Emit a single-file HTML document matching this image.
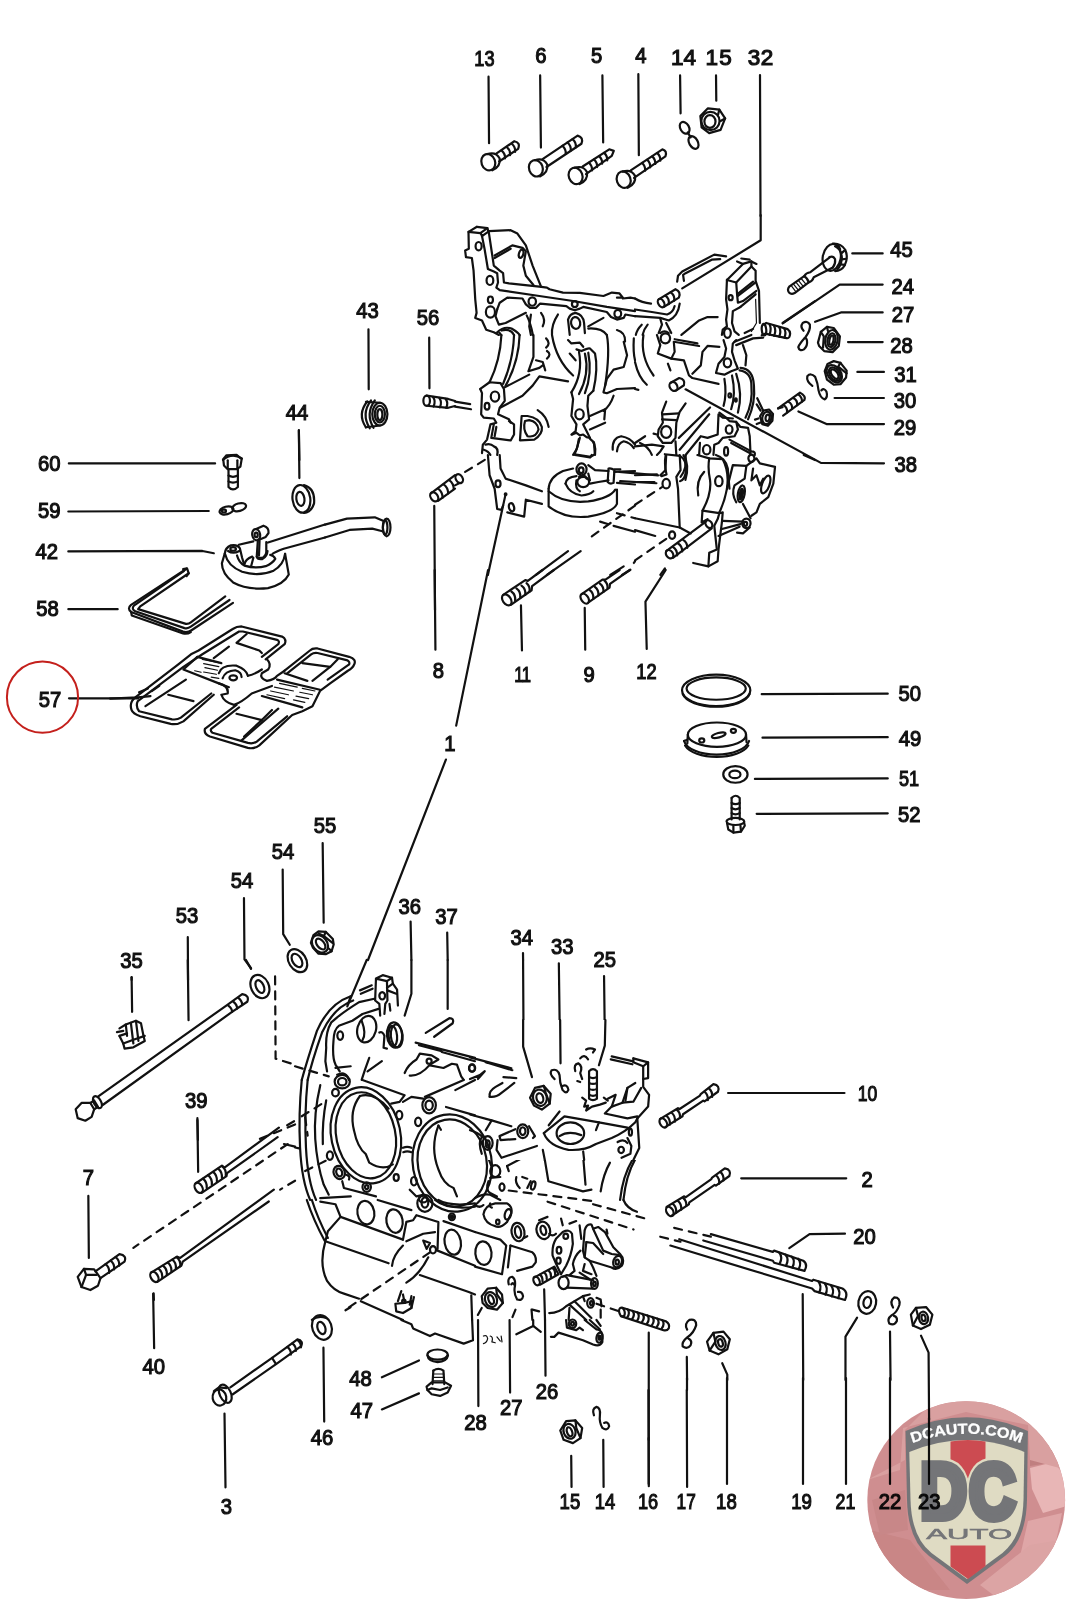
<!DOCTYPE html>
<html><head><meta charset="utf-8"><title>Crankcase diagram</title>
<style>
html,body{margin:0;padding:0;background:#fff;}
body{width:1067px;height:1600px;overflow:hidden;font-family:"Liberation Sans",sans-serif;}
svg{display:block}
.art path,.art ellipse,.art line,.art circle,.art polyline{fill:none;stroke:#111;stroke-width:2.2;vector-effect:non-scaling-stroke;stroke-linecap:round;stroke-linejoin:round}
.art .f{fill:#111}
.art .w{fill:#fff}
.art .t{stroke-width:1.2}
.art .k{stroke-width:2.4}
.art .d{stroke-dasharray:8 7}
.lbl text{font-family:"Liberation Sans",sans-serif;font-size:22.5px;fill:#111;stroke:#111;stroke-width:1.15}
</style></head><body>
<svg width="1067" height="1600" viewBox="0 0 1067 1600">
<rect width="1067" height="1600" fill="#fff"/>
<g class="art">
<g transform="translate(540,1390) scale(0.16870)"><!-- b01.txt -->
<path d="M120,240 L155,185 L210,180 L250,225 L240,285 L195,315 L140,295 Z"/>
<ellipse cx="175" cy="245" rx="35" ry="45" transform="rotate(-20 175 245)"/>
<ellipse cx="175" cy="248" rx="15" ry="28" transform="rotate(-20 175 248)"/>
<path d="M210,180 L215,225 L240,285"/>
<path d="M320,150 Q305,110 335,100 Q360,105 355,150 Q350,190 370,225 Q400,245 410,215 Q405,185 380,195"/>
<path d="M185,390 L187,575"/>
<path d="M375,295 L377,575"/>
<path d="M643,0 L645,570"/>
<path d="M870,0 L872,575"/>
</g>
<g transform="translate(60,800) scale(0.25305)"><!-- l01.txt -->
<path d="M1038,170 L1042,485"/>
<path d="M880,275 L882,530 L908,572"/>
<path d="M727,388 L729,630 L755,665"/>
<path d="M505,542 L506,711"/>
<path d="M283,700 L283,711"/>
</g>
<g transform="translate(60,960) scale(0.25305)"><!-- l02.txt -->
<path d="M283,69 L285,205"/>
<path d="M505,0 L508,238"/>
<path d="M735,0 L755,35"/>
<path d="M543,625 L545,711"/>
<ellipse cx="790" cy="105" rx="35" ry="48" transform="rotate(-25 790 105)"/>
<ellipse cx="790" cy="105" rx="15" ry="27" transform="rotate(-25 790 105)"/>
<path class="d" d="M850,65 L852,390 L929,414"/>
<path d="M62,590 L85,565 L120,565 L135,590 L125,620 L100,635 L70,625 Z"/>
<path d="M120,565 L135,555 L150,580 L135,590"/>
<ellipse cx="148" cy="562" rx="14" ry="26" transform="rotate(-30 148 562)"/>
<path d="M150,540 L660,178 L720,135 Q750,140 740,165 L680,205 L170,572"/>
<path d="M665,180 Q680,190 680,205"/>
<path d="M685,165 Q700,176 700,192"/>
<path d="M705,150 Q720,162 720,178"/>
<path d="M235,270 L260,255 L300,240 L320,250 L330,300 L335,320 L290,345 L255,350 L250,330 L235,300"/>
<path d="M260,255 L265,300"/>
<path d="M280,248 L290,330"/>
<path d="M300,240 L310,320"/>
<path d="M235,300 L265,290"/>
<path d="M250,330 L290,315 L335,300"/>
<path d="M225,285 L250,280"/>
<path class="d" d="M929,650 L780,711"/>
</g>
<g transform="translate(60,1120) scale(0.25305)"><!-- l03.txt -->
<path d="M543,0 L546,205"/>
<path d="M112,300 L114,545"/>
<path d="M370,685 L371,711"/>
<ellipse cx="548" cy="268" rx="14" ry="22" transform="rotate(-30 548 268)"/>
<path d="M537,250 L640,180 L650,188 L865,30"/>
<path d="M560,288 L658,222 L660,210 L860,68"/>
<path d="M565,232 Q582,245 580,270"/>
<path d="M585,218 Q602,231 600,256"/>
<path d="M605,205 Q622,218 620,243"/>
<path d="M625,192 Q642,205 640,230"/>
<path d="M640,182 Q658,195 655,220"/>
<path class="d" d="M900,95 L290,505"/>
<path class="d" d="M925,5 L885,28"/>
<path d="M885,95 L929,105"/>
<path class="d" d="M929,240 L870,275"/>
<ellipse cx="373" cy="620" rx="14" ry="22" transform="rotate(-30 373 620)"/>
<path d="M360,603 L462,540 L475,545 L845,275"/>
<path d="M385,640 L480,575 L485,560 L825,322"/>
<path d="M390,588 Q406,600 404,624"/>
<path d="M408,576 Q424,588 422,612"/>
<path d="M426,564 Q442,576 440,600"/>
<path d="M444,552 Q460,564 458,588"/>
<path d="M460,542 Q478,555 475,578"/>
<path d="M70,620 L95,588 L135,590 L160,625 L150,655 L120,672 L85,660 Z"/>
<path d="M95,588 L103,612 L85,660"/>
<path d="M103,612 L145,612"/>
<path d="M140,598 L235,530 Q265,535 255,560 L160,625"/>
<path d="M180,570 Q196,582 194,604"/>
<path d="M200,556 Q216,568 214,590"/>
<path d="M220,542 Q236,554 234,576"/>
</g>
<g transform="translate(100,1290) scale(0.25305)"><!-- l04.txt -->
<path d="M210,15 L214,230"/>
<path d="M883,228 L886,520"/>
<path d="M492,488 L496,780"/>
<ellipse cx="877" cy="148" rx="38" ry="50" transform="rotate(-20 877 148)"/>
<ellipse cx="875" cy="150" rx="15" ry="25" transform="rotate(-20 875 150)"/>
<ellipse cx="472" cy="425" rx="27" ry="32" transform="rotate(-10 472 425)"/>
<ellipse cx="495" cy="410" rx="22" ry="38" transform="rotate(-25 495 410)"/>
<path d="M450,400 L470,385 L500,388"/>
<path d="M515,385 L680,268 L740,225 L780,195 Q805,200 795,222 L700,290 L525,412"/>
<path d="M740,225 Q756,237 754,255"/>
<path d="M760,211 Q776,223 774,241"/>
<path d="M780,197 Q796,209 794,227"/>
<path d="M680,268 L695,292"/>
<path d="M970,80 L990,68"/>
</g>
<g transform="translate(270,920) scale(0.08435)"><!-- l05.txt -->
<ellipse cx="325" cy="482" rx="102" ry="148" transform="rotate(-32 325 482)"/>
<ellipse cx="320" cy="480" rx="52" ry="88" transform="rotate(-32 320 480)"/>
<path d="M485,270 L515,180 L575,135 L660,140 L745,225 L755,290 L730,370 L660,405 L575,400 L510,330 Z"/>
<ellipse cx="592" cy="283" rx="85" ry="112" transform="rotate(-38 592 283)"/>
<ellipse cx="600" cy="285" rx="42" ry="75" transform="rotate(-38 600 285)"/>
<path d="M660,140 L640,190 L745,275"/>
<path d="M640,190 L575,160"/>
<path d="M730,370 L700,340"/>
</g>
<g transform="translate(295,960) scale(0.16870)"><!-- m01.txt -->
<path d="M425,0 L310,275 L330,215"/>
<path d="M690,0 L690,200 L650,330"/>
<path d="M905,0 L905,290"/>
<path d="M775,432 L915,345 Q945,345 935,375 L825,455"/>
<path d="M330,215 Q200,260 130,420 Q70,600 40,711"/>
<path d="M345,240 Q230,280 160,430 Q100,600 75,711"/>
<path d="M470,230 L380,250 Q300,300 250,340 L215,370 Q180,430 185,520 L180,600 L190,660"/>
<path d="M495,290 L400,320 L340,360 L260,390 Q230,410 228,480 Q220,580 240,620 L265,660"/>
<path d="M480,110 L520,90 L575,105 L545,125 L480,110 L475,240 L500,260 L505,330"/>
<path d="M545,125 L548,240 L535,260 L530,320"/>
<path d="M575,105 L580,140 L545,165"/>
<path d="M580,140 L605,175 L610,270"/>
<path d="M548,180 L600,200"/>
<path d="M560,260 L565,300"/>
<ellipse cx="517" cy="212" rx="17" ry="22"/>
<path d="M385,180 L455,150"/>
<path d="M390,200 L460,170"/>
<ellipse cx="425" cy="410" rx="55" ry="80" transform="rotate(15 425 410)"/>
<path d="M395,360 Q425,440 400,475"/>
<ellipse cx="590" cy="445" rx="45" ry="75" transform="rotate(-5 590 445)"/>
<ellipse cx="580" cy="450" rx="25" ry="60" transform="rotate(-5 580 450)"/>
<ellipse cx="603" cy="450" rx="35" ry="68" transform="rotate(-5 603 450)"/>
<path d="M500,430 Q520,420 530,450 L525,520 L545,525"/>
<ellipse cx="268" cy="448" rx="17" ry="25"/>
<path d="M715,490 L1067,580"/>
<path d="M735,505 L870,540"/>
<path d="M870,545 L1067,600"/>
<path d="M650,670 Q670,620 720,590 L740,555 L810,565 L850,590 L800,620 Q740,690 680,685"/>
<ellipse cx="795" cy="600" rx="15" ry="15"/>
<path d="M800,625 L880,640 L930,615 L960,620 L985,690 L1000,711"/>
<ellipse cx="1050" cy="640" rx="18" ry="22"/>
<path d="M440,580 L415,650 L395,711"/>
<path d="M515,600 L430,660"/>
<path d="M250,680 Q290,660 310,690 L320,711"/>
<path d="M240,640 L330,630"/>
<path class="d" d="M0,630 L200,690"/>
</g>
<g transform="translate(475,960) scale(0.16870)"><!-- m02.txt -->
<clipPath id="cm02"><rect x="-50.0" y="-50.0" width="1170.0" height="405.0"/></clipPath>
<g clip-path="url(#cm02)">
<path d="M285,0 L288,520 L340,690"/>
<path d="M497,20 L505,615"/>
<path d="M765,95 L770,500 L735,620"/>
<path d="M0,590 L220,650"/>
<path d="M60,622 L225,667"/>
<path d="M0,640 L60,660 L20,711"/>
<path d="M170,690 L240,695 L245,711"/>
<path d="M640,560 Q650,520 690,520 Q720,530 715,550"/>
<path d="M665,548 Q690,532 702,562"/>
<path d="M640,560 L630,590 Q590,600 585,640 Q600,680 630,660 Q640,630 610,625"/>
<path d="M630,590 L655,610"/>
<path d="M625,680 L640,711"/>
<ellipse cx="465" cy="682" rx="22" ry="30" transform="rotate(-20 465 682)"/>
<path d="M680,650 Q700,630 720,650 L722,711"/>
<path d="M680,650 L682,711"/>
<path d="M682,680 Q700,690 722,680"/>
<path d="M810,570 L940,600 L945,580 L1020,600 L1020,711"/>
<path d="M800,585 L935,615 L990,630 L990,711"/>
<path d="M945,580 L990,630 L1020,600"/>
</g>
</g>
<g transform="translate(295,1080) scale(0.16870)"><!-- m03.txt -->
<ellipse cx="420" cy="328" rx="205" ry="288" transform="rotate(-12 420 328)"/>
<ellipse cx="420" cy="328" rx="175" ry="258" transform="rotate(-12 420 328)"/>
<path d="M385,95 Q320,180 350,300 Q370,400 420,440 L440,490 Q520,540 580,500"/>
<path d="M385,95 Q470,70 555,170"/>
<ellipse cx="932" cy="492" rx="234" ry="290" transform="rotate(-10 932 492)"/>
<ellipse cx="932" cy="492" rx="204" ry="260" transform="rotate(-10 932 492)"/>
<path d="M850,270 Q800,400 850,530 Q880,620 940,640 L960,690"/>
<path d="M850,270 L865,295"/>
<path d="M640,402 Q665,392 690,402"/>
<path d="M642,428 Q665,418 690,428"/>
<ellipse cx="795" cy="150" rx="40" ry="48"/>
<ellipse cx="795" cy="150" rx="22" ry="28"/>
<ellipse cx="618" cy="208" rx="18" ry="25"/>
<ellipse cx="730" cy="248" rx="18" ry="25"/>
<ellipse cx="240" cy="75" rx="20" ry="22"/>
<ellipse cx="207" cy="448" rx="18" ry="25"/>
<ellipse cx="262" cy="548" rx="33" ry="40" transform="rotate(-20 262 548)"/>
<ellipse cx="262" cy="548" rx="17" ry="24" transform="rotate(-20 262 548)"/>
<ellipse cx="600" cy="578" rx="15" ry="20"/>
<ellipse cx="705" cy="600" rx="17" ry="25"/>
<ellipse cx="425" cy="635" rx="25" ry="28"/>
<ellipse cx="425" cy="635" rx="10" ry="12"/>
<ellipse cx="280" cy="10" rx="45" ry="40"/>
<ellipse cx="280" cy="10" rx="25" ry="22"/>
<path d="M400,0 L650,90 L620,130 L570,140"/>
<path d="M640,130 L690,100 L760,110"/>
<path d="M770,100 L1000,0"/>
<path d="M950,60 L1067,0"/>
<path d="M895,160 L1067,210"/>
<path d="M40,0 Q20,200 30,400 Q40,600 90,711"/>
<path d="M75,0 Q55,200 65,400 Q75,600 125,711"/>
<path d="M150,30 Q110,200 120,350 Q130,500 170,620 L200,680"/>
<path d="M185,120 Q160,250 165,380"/>
<path class="d" d="M40,215 L185,125"/>
<path class="d" d="M60,540 L200,470"/>
<path class="d" d="M60,220 L75,330"/>
<path d="M0,400 L25,405"/>
<path class="k" d="M150,700 L330,690"/>
<path d="M280,600 L290,640 L480,690"/>
<path d="M300,560 Q330,570 320,590"/>
<path d="M680,650 L720,690 L760,680"/>
<ellipse cx="760" cy="705" rx="25" ry="20"/>
</g>
<g transform="translate(475,1080) scale(0.16870)"><!-- m04.txt -->
<clipPath id="cm04"><rect x="-50.0" y="474.0" width="1170.0" height="326.0"/></clipPath>
<g clip-path="url(#cm04)">
<path d="M325,85 L355,40 L410,35 L450,75 L440,140 L395,170 L345,150 Z"/>
<ellipse cx="385" cy="105" rx="35" ry="45" transform="rotate(-20 385 105)"/>
<ellipse cx="385" cy="105" rx="18" ry="28" transform="rotate(-20 385 105)"/>
<path d="M90,110 Q80,80 120,50 L160,20"/>
<path d="M90,110 Q120,110 150,85 L230,20"/>
<ellipse cx="530" cy="45" rx="22" ry="30" transform="rotate(-20 530 45)"/>
<ellipse cx="533" cy="50" rx="8" ry="12"/>
<path d="M480,0 L500,15"/>
<path d="M685,0 L690,100 Q705,120 725,100 L728,0"/>
<path d="M688,30 Q706,40 727,30"/>
<path d="M688,60 Q706,70 727,60"/>
<path d="M640,100 L660,120 L650,150 L680,155 L660,180 L700,165 L720,150 L760,145"/>
<path d="M620,20 L630,40"/>
<path d="M760,40 L830,50 L800,120"/>
<path d="M770,90 L790,120"/>
<path d="M990,0 L985,30 L1030,50 L1030,150 L1000,190 L960,235 L930,240"/>
<path d="M905,55 L985,30"/>
<path d="M905,55 L880,110 L875,150 L920,160 L1000,150 L1000,190"/>
<path d="M830,50 L860,55 L800,170"/>
<path d="M770,200 L800,170 L920,160"/>
<path d="M770,200 L910,235 L960,235"/>
<path d="M410,310 L540,220 L720,255 L660,330"/>
<path d="M410,310 Q430,370 520,400 Q620,410 690,380 L760,350 Q850,320 910,285 L920,260"/>
<path d="M740,255 L905,290"/>
<path d="M690,380 L720,370 L770,380 L830,340 L905,300"/>
<ellipse cx="570" cy="320" rx="85" ry="60" transform="rotate(-5 570 320)"/>
<ellipse cx="582" cy="337" rx="58" ry="33" transform="rotate(-5 582 337)"/>
<path d="M405,420 L435,600 L640,660 L690,650"/>
<path d="M640,440 L655,620"/>
<path d="M405,420 Q520,470 640,440 L690,400"/>
<path d="M0,215 L100,245 L130,250 L240,275"/>
<path d="M100,245 L60,320"/>
<ellipse cx="290" cy="305" rx="38" ry="42"/>
<ellipse cx="290" cy="305" rx="18" ry="22"/>
<path d="M250,285 L140,320 L150,340 L240,330"/>
<path d="M145,340 L130,420 L160,450 L380,380"/>
<path d="M330,320 L350,345 L330,350"/>
<path d="M190,510 L380,410"/>
<path d="M190,510 L200,540"/>
<ellipse cx="75" cy="380" rx="35" ry="45"/>
<ellipse cx="75" cy="380" rx="16" ry="24"/>
<path d="M0,330 Q60,400 100,520"/>
<ellipse cx="120" cy="540" rx="30" ry="35"/>
<path d="M90,580 L150,575"/>
<path d="M80,600 Q60,650 90,670 L130,690"/>
<ellipse cx="160" cy="635" rx="15" ry="22"/>
<path d="M0,700 Q50,670 90,680 L150,711"/>
<ellipse cx="865" cy="415" rx="18" ry="20"/>
<ellipse cx="920" cy="295" rx="12" ry="22"/>
<path d="M960,240 L965,400 L985,420 Q900,520 880,711"/>
<path d="M965,430 Q880,530 860,711"/>
<path d="M910,330 L930,350 L930,440 L870,465"/>
<path d="M850,360 Q880,340 905,360"/>
<path d="M800,490 Q760,560 745,660"/>
<path d="M245,575 Q235,610 265,640"/>
<path d="M280,575 L310,585"/>
<ellipse cx="345" cy="625" rx="12" ry="25" transform="rotate(15 345 625)"/>
<path d="M310,640 L330,600"/>
<path class="d" d="M200,655 L720,720"/>
</g>
</g>
<g transform="translate(295,1200) scale(0.16870)"><!-- m05.txt -->
<path d="M70,0 Q110,120 175,240"/>
<path d="M100,0 Q135,110 195,225"/>
<path d="M150,10 L240,25 L270,100 L640,235"/>
<path d="M270,100 L195,185 L180,245 L555,375"/>
<path d="M180,245 Q140,380 190,480 Q230,540 290,555 L380,585"/>
<path d="M390,600 L640,711"/>
<ellipse cx="420" cy="75" rx="50" ry="70" transform="rotate(-10 420 75)"/>
<ellipse cx="590" cy="125" rx="48" ry="70" transform="rotate(-10 590 125)"/>
<ellipse cx="935" cy="250" rx="48" ry="75" transform="rotate(-10 935 250)"/>
<ellipse cx="770" cy="20" rx="45" ry="50"/>
<ellipse cx="770" cy="15" rx="20" ry="30"/>
<ellipse cx="930" cy="100" rx="18" ry="20"/>
<ellipse cx="930" cy="100" rx="7" ry="9" class="f"/>
<path d="M830,0 Q900,60 1067,40"/>
<path d="M850,0 Q920,40 1067,20"/>
<path d="M490,0 L690,60"/>
<path d="M880,125 L1067,190"/>
<path d="M640,235 L660,130 L700,120 L720,90 L850,130 L845,290"/>
<path d="M660,245 L760,200 L830,190"/>
<path d="M760,240 L800,255 L780,290 Z"/>
<ellipse cx="818" cy="295" rx="18" ry="22"/>
<path d="M640,270 Q580,330 575,390"/>
<path d="M845,300 L1067,390"/>
<path d="M790,340 Q740,440 660,490"/>
<path d="M740,445 L1030,545 L1067,560"/>
<path d="M1045,565 L1050,711"/>
<path class="d" d="M800,310 L300,650"/>
<path d="M595,615 L600,660 L640,670 L690,640 L690,600 L650,610 L595,615"/>
<path d="M630,540 L610,600"/>
<path d="M640,560 L650,610"/>
<path d="M690,570 L680,620"/>
<path d="M705,575 L690,640"/>
<ellipse cx="645" cy="600" rx="10" ry="10"/>
<path d="M100,711 Q140,680 185,700"/>
</g>
<g transform="translate(475,1200) scale(0.16870)"><!-- m06.txt -->
<path class="d" d="M430,10 L940,175"/>
<path class="d" d="M700,25 L1010,110"/>
<path d="M880,0 Q900,50 960,70"/>
<path d="M50,85 Q60,30 120,20 L190,20 Q225,40 215,80 L190,130 Q150,170 120,155 Q60,140 50,85"/>
<ellipse cx="195" cy="85" rx="18" ry="32" transform="rotate(15 195 85)"/>
<ellipse cx="135" cy="130" rx="10" ry="14"/>
<path d="M90,20 Q80,40 100,45"/>
<path d="M0,30 Q30,50 50,30"/>
<ellipse cx="255" cy="190" rx="38" ry="55" transform="rotate(-10 255 190)"/>
<ellipse cx="255" cy="190" rx="18" ry="35" transform="rotate(-10 255 190)"/>
<path d="M290,225 L310,215"/>
<ellipse cx="405" cy="180" rx="40" ry="52" transform="rotate(-15 405 180)"/>
<ellipse cx="405" cy="180" rx="16" ry="28" transform="rotate(-15 405 180)"/>
<path d="M380,120 L430,100"/>
<path d="M440,200 Q460,220 480,200"/>
<path d="M0,190 L150,235 L185,270 L160,440 L0,395"/>
<ellipse cx="50" cy="315" rx="48" ry="70" transform="rotate(-5 50 315)"/>
<path d="M210,270 L340,310 Q365,330 360,370 L340,395 L250,420"/>
<path d="M210,270 L195,400"/>
<path d="M520,190 Q560,170 575,200 L580,260 Q570,330 540,390 L510,440 Q480,380 460,330 Q455,270 480,230 Z"/>
<ellipse cx="538" cy="215" rx="14" ry="16"/>
<ellipse cx="498" cy="298" rx="14" ry="20"/>
<ellipse cx="495" cy="360" rx="13" ry="18"/>
<path d="M510,110 L520,150"/>
<path d="M560,140 L600,125"/>
<path d="M650,180 Q660,140 690,145 L700,170 L730,160 L770,190 L820,280 L860,320 Q890,350 870,390 Q840,420 810,400 L680,360 L650,340 L640,300 Z"/>
<ellipse cx="845" cy="365" rx="25" ry="35" transform="rotate(20 845 365)"/>
<ellipse cx="843" cy="368" rx="10" ry="15"/>
<path d="M700,170 L760,300 L810,320 L850,325"/>
<path d="M660,250 L700,255 L760,320"/>
<path d="M660,250 L650,340"/>
<path d="M680,360 L700,400 L720,450"/>
<path d="M650,380 L640,420 L690,440"/>
<path d="M780,175 L785,200"/>
<path d="M620,150 L630,230"/>
<path d="M625,300 Q590,330 580,380 L590,420 L560,445"/>
<ellipse cx="365" cy="480" rx="17" ry="27" transform="rotate(-25 365 480)"/>
<path d="M350,460 L470,395 L495,440 L385,502"/>
<path d="M385,443 Q402,455 400,482"/>
<path d="M410,430 Q427,442 425,469"/>
<path d="M435,417 Q452,429 450,456"/>
<path d="M460,404 Q477,416 475,443"/>
<path d="M520,455 L545,445 L700,475"/>
<path d="M545,520 L700,525"/>
<ellipse cx="525" cy="490" rx="30" ry="38"/>
<ellipse cx="708" cy="495" rx="20" ry="32"/>
<ellipse cx="708" cy="497" rx="8" ry="14"/>
<path d="M620,430 L680,470"/>
<path d="M200,500 Q190,460 220,455 Q245,470 235,520 Q230,560 250,590 Q280,600 285,570 Q280,540 255,545"/>
<path d="M215,500 Q225,485 230,500"/>
<path d="M40,570 L75,525 L125,520 L160,560 L165,610 L130,650 L75,640 L45,610 Z"/>
<ellipse cx="95" cy="590" rx="35" ry="45" transform="rotate(-20 95 590)"/>
<ellipse cx="95" cy="590" rx="15" ry="28" transform="rotate(-20 95 590)"/>
<path d="M125,520 L130,560 L165,610"/>
<path d="M410,530 L415,711"/>
<path d="M335,650 L340,711"/>
<path d="M340,650 L380,660"/>
<path d="M440,670 Q500,670 540,630 L640,570 L680,560"/>
<path d="M560,620 L660,711"/>
<path d="M590,600 L690,700"/>
<path d="M560,640 L555,711"/>
<path d="M640,570 L650,600"/>
<ellipse cx="685" cy="610" rx="20" ry="28"/>
<ellipse cx="690" cy="612" rx="8" ry="12"/>
<path d="M720,580 L745,590 L750,630"/>
<path class="d" d="M745,650 L745,711"/>
<path class="d" d="M720,615 L870,665"/>
<path class="d" d="M40,640 L0,711"/>
<path class="d" d="M240,650 L215,711"/>
</g>
<g transform="translate(295,1320) scale(0.16870)"><!-- m07.txt -->
<path d="M515,340 L735,240"/>
<path d="M515,530 L735,435"/>
<ellipse cx="845" cy="205" rx="60" ry="30"/>
<path d="M785,210 Q790,245 845,250 Q900,245 907,210"/>
<path d="M820,300 Q850,280 880,300 L885,380"/>
<path d="M820,300 L815,380"/>
<path class="t" d="M818,320 L883,320 M817,340 L884,340 M816,360 L885,360"/>
<path d="M780,395 L810,370 L890,370 L925,390 L905,430 L860,450 L810,440 L785,415 Z"/>
<path d="M785,415 L810,405 L860,415 L905,400"/>
<path d="M630,0 L690,25 L700,50 L800,95 L830,80 L1000,140 L1055,120 L1050,0"/>
</g>
<g transform="translate(475,1320) scale(0.16870)"><!-- m08.txt -->
<path d="M18,0 L20,510"/>
<path d="M205,0 L208,430"/>
<path d="M415,0 L418,330"/>
<path d="M245,85 L345,35 L390,70"/>
<path d="M345,0 L345,35"/>
<path class="t" d="M50,95 Q70,85 75,110 Q70,135 50,140 M90,95 Q110,100 100,130 L120,135 M130,100 L150,125 M155,95 L160,130"/>
<path d="M450,100 L470,100 L495,75 L640,120 L700,145 Q740,160 755,130 L755,85 Q745,55 720,55 L650,0"/>
<path d="M540,0 L545,45 L600,60 L620,45 L640,60"/>
<ellipse cx="578" cy="22" rx="22" ry="25"/>
<ellipse cx="578" cy="22" rx="9" ry="11"/>
<ellipse cx="738" cy="105" rx="18" ry="30" transform="rotate(10 738 105)"/>
<ellipse cx="738" cy="105" rx="6" ry="12"/>
<path d="M680,0 L740,55"/>
<path d="M720,0 L745,35"/>
<path d="M1030,75 L1030,711"/>
</g>
<g transform="translate(470,1020) scale(0.19681)"><!-- m09.txt -->
<path d="M270,0 L270,135 L315,290"/>
<path d="M458,0 L460,220"/>
<path d="M688,0 L685,130 L655,230"/>
<path d="M305,395 L330,345 L375,335 L410,375 L405,425 L365,455 L325,435 Z"/>
<ellipse cx="355" cy="395" rx="35" ry="42" transform="rotate(-15 355 395)"/>
<ellipse cx="355" cy="397" rx="17" ry="25" transform="rotate(-15 355 397)"/>
<path d="M375,335 L385,370 L405,425"/>
<path d="M430,300 Q400,275 415,255 Q445,245 455,280 Q455,320 470,355 Q490,380 500,355 Q495,325 470,335"/>
<path d="M590,150 Q610,138 635,150 L625,165"/>
<path d="M560,195 Q580,170 600,200"/>
<path d="M535,260 Q525,225 550,220 Q575,235 560,270 L570,300"/>
<path d="M545,310 L560,315"/>
<path d="M605,260 Q625,240 645,260 L645,400 Q625,415 605,400 Z"/>
<path d="M605,290 Q625,300 645,290"/>
<path d="M605,320 Q625,330 645,320"/>
<path d="M605,350 Q625,360 645,350"/>
<path d="M605,380 Q625,390 645,380"/>
<path d="M570,395 L590,410 L580,440 L600,435 L590,460 L620,440 L660,430 L690,420"/>
<path d="M680,395 L700,410"/>
<path d="M720,185 L830,210"/>
<path d="M715,200 L825,225"/>
<path d="M830,195 L905,215 L905,295 L880,300 L880,340 L910,380 L905,440 L850,500"/>
<path d="M830,195 L830,215 L880,235 L880,300"/>
<path d="M905,215 L880,235"/>
<path d="M840,320 L800,345 L775,420 L720,440 L685,475 L800,500 L850,490"/>
<path d="M775,420 L830,415 L870,345"/>
<path d="M720,440 L740,380 L700,400"/>
<path d="M800,345 L790,410"/>
<path d="M375,575 L480,490 L655,520 L640,560"/>
<ellipse cx="510" cy="575" rx="70" ry="55"/>
<path d="M455,590 Q500,560 565,585"/>
<path d="M375,575 Q400,640 500,660 Q580,665 640,630 L720,600 Q790,570 840,520 L850,500"/>
<path d="M655,520 L800,547"/>
<path d="M455,465 L400,535"/>
<ellipse cx="268" cy="565" rx="28" ry="35"/>
<ellipse cx="268" cy="565" rx="14" ry="20"/>
<path d="M230,555 L150,590 L155,610 L230,605"/>
<path d="M300,540 L330,590 L320,600"/>
<path d="M140,610 L135,660 L160,700 L340,640"/>
<ellipse cx="90" cy="625" rx="25" ry="35"/>
<ellipse cx="90" cy="630" rx="10" ry="18"/>
<path d="M60,595 Q40,620 60,680"/>
<path d="M0,560 Q40,570 70,600"/>
<path d="M0,480 L110,510 L210,540"/>
<path d="M110,510 L80,560"/>
<path d="M0,190 L210,245"/>
<path d="M80,215 L215,255"/>
<ellipse cx="10" cy="245" rx="15" ry="18"/>
<path d="M0,300 L50,280 L75,260 L40,300"/>
<path d="M100,390 Q95,360 130,340 L165,320"/>
<path d="M100,390 Q130,395 160,370 L225,320"/>
<path d="M170,290 L235,295"/>
<ellipse cx="815" cy="570" rx="8" ry="18"/>
<path d="M850,500 L860,650 L830,711"/>
<ellipse cx="768" cy="660" rx="14" ry="16"/>
<path d="M750,620 Q780,600 800,625"/>
<path d="M800,600 L820,640 L815,680 L770,700"/>
<path d="M370,660 L380,711"/>
<path d="M575,668 L580,711"/>
</g>
<g transform="translate(465,40) scale(0.25305)"><!-- p01.txt -->
<ellipse cx="92" cy="483" rx="27" ry="33" transform="rotate(-20 92 483)"/>
<path d="M88,451 Q122,440 137,468 Q142,500 108,515"/>
<path d="M122,450 L195,400 Q220,405 210,430 L135,480"/>
<path d="M145,437 Q160,450 158,468"/>
<path d="M165,423 Q180,436 178,455"/>
<path d="M185,410 Q200,423 198,442"/>
<ellipse cx="280" cy="507" rx="27" ry="33" transform="rotate(-20 280 507)"/>
<path d="M276,475 Q310,464 325,492 Q330,524 296,539"/>
<path d="M308,470 L445,378 Q470,385 460,410 L322,502"/>
<path d="M385,418 Q400,432 398,450"/>
<path d="M405,405 Q420,418 418,437"/>
<path d="M425,392 Q440,405 438,424"/>
<ellipse cx="437" cy="537" rx="27" ry="33" transform="rotate(-20 437 537)"/>
<path d="M433,505 Q467,494 482,522 Q487,554 453,569"/>
<path d="M465,500 L570,432 L588,438 L580,458 L478,530"/>
<path d="M490,485 Q503,497 502,515"/>
<path d="M510,472 Q523,484 522,502"/>
<path d="M530,459 Q543,471 542,489"/>
<path d="M550,446 Q563,458 562,476"/>
<ellipse cx="627" cy="552" rx="27" ry="33" transform="rotate(-20 627 552)"/>
<path d="M623,520 Q657,509 672,537 Q677,569 643,584"/>
<path d="M655,515 L780,432 Q800,437 792,460 L668,545"/>
<path d="M700,486 Q713,498 712,516"/>
<path d="M720,473 Q733,485 732,503"/>
<path d="M740,460 Q753,472 752,490"/>
<path d="M760,447 Q773,459 772,477"/>
<ellipse cx="868" cy="347" rx="17" ry="25" transform="rotate(-30 868 347)"/>
<ellipse cx="903" cy="405" rx="17" ry="27" transform="rotate(-30 903 405)"/>
<path d="M880,365 L892,385"/>
<path d="M930,300 L960,270 L1005,275 L1028,310 L1010,355 L965,368 L935,345 Z"/>
<ellipse cx="968" cy="322" rx="22" ry="25"/>
<ellipse cx="970" cy="320" rx="36" ry="36"/>
<path d="M1005,275 L1000,295"/>
<path d="M1028,310 L1010,320"/>
<path d="M93,145 L95,408"/>
<path d="M297,140 L300,425"/>
<path d="M543,140 L546,405"/>
<path d="M685,135 L687,455"/>
<path d="M850,140 L852,290"/>
<path d="M992,140 L993,240"/>
</g>
<g transform="translate(765,215) scale(0.25305)"><!-- p02.txt -->
<path d="M345,152 L465,152"/>
<path d="M70,428 L295,275 L465,275"/>
<path d="M198,422 L300,385 L465,385"/>
<path d="M328,502 L465,502"/>
<path d="M365,620 L470,620"/>
</g>
<g transform="translate(765,355) scale(0.25305)"><!-- p03.txt -->
<path d="M275,170 L470,170"/>
</g>
<g transform="translate(185,280) scale(0.25305)"><!-- p04.txt -->
<path d="M725,195 L726,432"/>
<path d="M965,228 L966,428"/>
<path d="M450,595 L452,711"/>
<ellipse cx="770" cy="530" rx="30" ry="45"/>
<ellipse cx="770" cy="530" rx="20" ry="33"/>
<ellipse cx="770" cy="532" rx="10" ry="22"/>
<path d="M720,480 Q680,530 715,582"/>
<path d="M735,476 Q695,530 730,586"/>
<path d="M750,476 Q712,530 745,584"/>
<path d="M715,482 L772,485"/>
<path d="M715,582 L772,575"/>
<ellipse cx="955" cy="477" rx="13" ry="20"/>
<path d="M955,457 L1040,470 L1067,478"/>
<path d="M955,497 L1040,505 L1067,498"/>
<path d="M980,462 Q992,480 982,500"/>
<path d="M1005,466 Q1017,484 1007,503"/>
<path d="M1030,470 Q1042,487 1032,505"/>
<path d="M150,711 Q185,680 225,705"/>
</g>
<g transform="translate(0,430) scale(0.25305)"><!-- p05.txt -->
<path d="M272,132 L850,132"/>
<path d="M270,322 L825,320"/>
<path d="M270,480 L800,478 L845,487"/>
<path d="M270,708 L465,708"/>
<path d="M882,115 L895,100 L935,98 L955,115 L950,145 L935,155 L900,155 L885,140 Z"/>
<path d="M903,155 L903,225 Q920,245 940,225 L940,155"/>
<path d="M903,180 Q920,190 940,180"/>
<path d="M903,203 Q920,213 940,203"/>
<path d="M900,120 L900,150"/>
<path d="M938,120 L938,150"/>
<ellipse cx="895" cy="318" rx="28" ry="15" transform="rotate(-15 895 318)"/>
<ellipse cx="945" cy="305" rx="28" ry="15" transform="rotate(-15 945 305)"/>
<ellipse cx="885" cy="320" rx="8" ry="6"/>
</g>
<g transform="translate(185,430) scale(0.25305)"><!-- p06.txt -->
<path d="M553,374 L640,350 L750,345 L785,360"/>
<path d="M553,425 L650,395 L740,390 L780,400"/>
<ellipse cx="797" cy="385" rx="15" ry="35"/>
<ellipse cx="791" cy="385" rx="9" ry="27"/>
<ellipse cx="460" cy="272" rx="35" ry="55" transform="rotate(-8 460 272)"/>
<ellipse cx="456" cy="272" rx="16" ry="28" transform="rotate(-8 456 272)"/>
<path d="M470,218 Q515,230 510,290 Q500,325 470,328"/>
<path d="M450,0 L452,190"/>
<path d="M972,250 L1067,178"/>
<path d="M1000,280 L1067,232"/>
<ellipse cx="985" cy="264" rx="14" ry="20" transform="rotate(-35 985 264)"/>
<path d="M1000,232 Q1018,245 1018,268"/>
<path d="M1022,215 Q1040,228 1040,251"/>
<path d="M1044,198 Q1062,211 1062,234"/>
<path d="M985,300 L988,711"/>
</g>
<g transform="translate(110,610) scale(0.25305)"><!-- p07.txt -->
<path d="M615,195 L690,135 Q700,115 680,105 L520,65 Q500,65 485,75 L350,160 L320,175 L270,215 L100,345 Q75,365 85,395 Q90,410 120,420 L240,450 Q265,455 290,440 L410,335"/>
<path d="M600,185 L665,135 Q672,122 660,118 L525,85 L510,85 L365,175 L290,225 L110,360 Q100,380 115,400 L245,432 Q265,435 280,425 L400,330"/>
<path d="M540,95 L500,130 L590,160 L600,170"/>
<path d="M470,145 L410,190"/>
<path d="M230,335 L330,360"/>
<path d="M140,380 L300,275"/>
<path class="t" d="M365,195 L430,208 M370,212 L430,224 M375,228 L425,238 M370,245 L420,254 M335,240 L360,246 M400,265 L430,270"/>
<path d="M345,185 L290,235 L430,290 L470,305"/>
<path d="M345,185 L440,210"/>
<ellipse cx="487" cy="268" rx="15" ry="10"/>
<path d="M430,250 Q440,215 500,220 Q540,235 545,260"/>
<path d="M445,270 Q455,240 495,238 Q520,245 520,265"/>
<path d="M430,290 Q470,300 465,330 L440,335 Q450,365 490,375 Q520,365 560,330 L640,300"/>
<path d="M620,195 Q640,215 625,235 L600,250 Q590,270 620,280 Q650,275 660,260 L690,240"/>
<path d="M545,260 Q570,255 600,235"/>
<path d="M690,240 L790,160 Q800,150 820,152 L945,185 Q975,195 965,215 Q960,230 940,240 L870,290 L830,320 L800,380 L760,400 L720,415 L590,535 Q570,550 545,545 L395,500 Q370,490 375,470 L500,375"/>
<path d="M700,250 L795,175 Q805,168 820,170 L935,198 Q950,205 945,215 L860,275"/>
<path d="M700,420 L580,520 Q565,530 545,525 L405,485 Q395,478 400,470 L510,385"/>
<path d="M760,210 L870,225 L900,195"/>
<path d="M870,225 L800,280"/>
<path d="M690,250 L780,280"/>
<path d="M500,410 L600,435 L640,395"/>
<path d="M600,435 L530,500"/>
<path d="M665,390 L520,515"/>
<path class="t" d="M670,290 L740,305 M650,305 L725,320 M635,320 L705,335 M620,335 L690,350 M760,310 L810,320 M750,325 L800,335 M735,340 L785,350 M725,355 L770,365"/>
<path d="M600,340 L690,365 L760,385"/>
<path d="M660,275 L830,315"/>
<path d="M0,350 L110,345 L160,340"/>
<path d="M115,325 L150,310"/>
<path d="M165,320 L195,300"/>
</g>
<g transform="translate(400,570) scale(0.25305)"><!-- p08.txt -->
<path d="M137,0 L140,315"/>
<path d="M348,0 L222,615"/>
<path d="M478,140 L482,318"/>
<path d="M730,150 L732,315"/>
<path d="M1050,0 L970,125 L975,312"/>
<path d="M563,0 L505,43 L495,40 L408,98"/>
<path d="M608,0 L522,64 L520,80 L438,138"/>
<ellipse cx="422" cy="118" rx="16" ry="24" transform="rotate(-35 422 118)"/>
<path d="M440,85 Q458,98 455,122"/>
<path d="M460,73 Q478,86 475,110"/>
<path d="M480,62 Q498,75 495,98"/>
<path d="M500,52 Q515,65 512,85"/>
<path d="M868,0 L812,38 L800,38 L718,95"/>
<path d="M908,0 L830,55 L828,70 L745,128"/>
<ellipse cx="730" cy="113" rx="14" ry="22" transform="rotate(-35 730 113)"/>
<path d="M750,80 Q766,92 764,114"/>
<path d="M770,67 Q786,79 784,100"/>
<path d="M790,54 Q806,66 804,87"/>
<path d="M808,42 Q822,54 820,72"/>
</g>
<g transform="translate(660,660) scale(0.25305)"><!-- p09.txt -->
<path d="M402,135 L900,133"/>
<path d="M405,307 L900,305"/>
<path d="M375,470 L900,468"/>
<path d="M382,608 L900,606"/>
<ellipse cx="222" cy="120" rx="135" ry="62"/>
<ellipse cx="222" cy="113" rx="117" ry="44"/>
<path d="M90,135 A134,60 0 0 0 354,135"/>
<ellipse cx="225" cy="295" rx="115" ry="48"/>
<path d="M95,320 A130,64 0 0 0 352,320"/>
<path d="M99,338 A130,62 0 0 0 349,338"/>
<path d="M110,295 L108,330"/>
<path d="M340,295 L342,325"/>
<path d="M95,320 L108,315"/>
<ellipse cx="232" cy="297" rx="28" ry="9" transform="rotate(-15 232 297)"/>
<ellipse cx="165" cy="318" rx="10" ry="8"/>
<ellipse cx="290" cy="280" rx="10" ry="8"/>
<ellipse cx="298" cy="452" rx="48" ry="33"/>
<ellipse cx="296" cy="452" rx="22" ry="15"/>
<path d="M283,545 Q298,528 315,545 L315,630"/>
<path d="M283,545 L283,630"/>
<path d="M283,565 Q298,575 315,565"/>
<path d="M283,585 Q298,595 315,585"/>
<path d="M283,605 Q298,615 315,605"/>
<ellipse cx="298" cy="638" rx="35" ry="14"/>
<path d="M265,645 L270,670 L290,682 L320,678 L335,655 L332,640"/>
<path d="M290,682 L290,655"/>
<path d="M320,678 L318,655"/>
</g>
<g transform="translate(780,225) scale(0.11246)"><!-- p10.txt -->
<ellipse cx="460" cy="288" rx="80" ry="120" transform="rotate(10 460 288)"/>
<path d="M470,165 Q540,160 580,220 Q610,290 575,360 Q545,410 490,410"/>
<path d="M490,190 Q545,215 550,290 Q545,360 510,395"/>
<path d="M520,185 L535,215"/>
<path d="M570,230 L548,250"/>
<path d="M590,300 L552,305"/>
<path d="M575,355 L540,350"/>
<path d="M440,285 Q475,272 490,305 Q495,345 470,378"/>
<path d="M445,285 L270,420 Q230,425 215,455 L85,545 Q60,575 80,600 Q100,620 130,605 L255,510 Q290,500 300,465 L470,378"/>
<path d="M215,455 Q245,470 255,510"/>
<path class="t" d="M100,540 L140,592 M120,525 L163,580 M143,510 L185,562 M165,495 L208,547 M190,478 L232,528"/>
</g>
<g transform="translate(110,555) scale(0.14058)"><!-- p11.txt -->
<path d="M545,98 L150,355 Q120,380 150,405 L520,545 Q550,555 580,535 L875,340"/>
<path d="M525,115 L170,360 Q150,385 180,400 L530,520 Q555,525 575,510 L850,320"/>
<path d="M560,130 L215,365 L200,385 L540,490 Q560,492 575,480 L820,295"/>
<path d="M150,405 L155,430 L520,558 Q550,565 575,548"/>
<path d="M520,100 L548,95 L560,130 L545,150"/>
</g>
<g transform="translate(755,310) scale(0.11246)"><!-- p12.txt -->
<path d="M75,130 L100,115 L290,170 Q325,195 305,240 Q295,255 280,250 L90,210 L60,225"/>
<ellipse cx="80" cy="175" rx="20" ry="52" transform="rotate(-5 80 175)"/>
<path d="M130,130 Q150,170 128,220"/>
<path d="M170,142 Q190,180 170,230"/>
<path d="M215,152 Q235,190 215,238"/>
<path d="M260,165 Q280,200 262,246"/>
<path d="M432,185 Q398,150 425,115 Q465,90 488,130 Q495,180 450,240 Q395,300 385,330 Q395,370 435,350 Q470,320 462,270 Q455,245 440,250"/>
<path d="M560,290 L585,195 L640,150 L700,160 L755,235 L745,320 L690,375 L615,365 L570,320 Z"/>
<ellipse cx="680" cy="265" rx="55" ry="88" transform="rotate(10 680 265)"/>
<ellipse cx="680" cy="268" rx="35" ry="62" transform="rotate(10 680 268)"/>
<ellipse cx="680" cy="268" rx="18" ry="42" transform="rotate(10 680 268)"/>
<path d="M585,195 L612,235 L605,335"/>
<path d="M640,150 L648,185"/>
</g>
<g transform="translate(755,360) scale(0.11246)"><!-- p13.txt -->
<path d="M510,230 Q455,190 465,145 Q495,110 535,150 Q560,210 565,270 Q580,340 620,350 Q650,330 635,280 Q615,245 590,270"/>
<path d="M620,100 L645,35 L700,10 L760,25 L815,95 L810,155 L760,215 L700,220 L640,175 Z"/>
<ellipse cx="705" cy="122" rx="58" ry="85" transform="rotate(-35 705 122)"/>
<ellipse cx="708" cy="125" rx="26" ry="48" transform="rotate(-35 708 125)"/>
<ellipse cx="708" cy="125" rx="42" ry="66" transform="rotate(-35 708 125)"/>
<path d="M760,25 L740,58 L815,118"/>
<path d="M205,430 L400,290 Q455,320 440,355 L250,495"/>
<path d="M205,430 L245,420"/>
<path d="M250,400 Q290,420 285,465"/>
<path d="M295,370 Q335,390 330,435"/>
<path d="M340,338 Q380,358 375,402"/>
<path d="M385,305 Q420,330 418,370"/>
<path d="M45,500 L75,450 L125,440 L160,480 L155,540 L115,585 L65,570 Z"/>
<ellipse cx="112" cy="515" rx="18" ry="30" transform="rotate(10 112 515)"/>
<ellipse cx="105" cy="515" rx="40" ry="55" transform="rotate(10 105 515)"/>
<path d="M20,340 L70,445"/>
<path d="M15,395 L50,450"/>
<path d="M0,530 L30,520"/>
<path d="M15,570 L50,555"/>
</g>
<g transform="translate(205,515) scale(0.11246)"><!-- p14.txt -->
<path d="M175,345 L150,430 Q150,520 250,600 Q380,670 560,650 Q700,620 745,530 L712,345"/>
<path d="M180,350 Q200,450 330,505 Q480,550 610,495 Q700,440 712,345"/>
<path d="M285,360 Q300,420 350,450 Q450,480 540,455 Q600,430 625,390 Q610,360 580,355"/>
<path d="M350,440 Q360,390 420,370"/>
<path d="M410,455 L430,380"/>
<path d="M175,345 Q180,290 230,270 Q290,260 310,295 L330,380 L345,430"/>
<ellipse cx="250" cy="302" rx="25" ry="16"/>
<path d="M205,320 Q250,350 305,320"/>
<path d="M300,265 L430,235"/>
<ellipse cx="455" cy="175" rx="35" ry="50" transform="rotate(-10 455 175)"/>
<ellipse cx="455" cy="177" rx="14" ry="20"/>
<path d="M455,125 L520,95 Q570,110 565,160 L540,195 L470,225 L460,370 Q480,390 520,375 Q545,360 545,330 L545,240"/>
<path d="M485,230 L480,360"/>
<path d="M460,370 Q465,398 510,392 Q552,372 556,320"/>
<path d="M560,245 L1067,85"/>
<path d="M600,345 Q620,330 700,300 L1067,200"/>
</g>
<g transform="translate(640,1050) scale(0.25305)"><!-- r01.txt -->
<path d="M348,170 L808,170"/>
<path d="M400,507 L815,507"/>
<ellipse cx="92" cy="288" rx="13" ry="20" transform="rotate(-30 92 288)"/>
<path d="M80,272 L150,230 L155,234 L237,180 L240,174 L290,135 Q318,140 308,165 L255,203 L250,200 L170,254 L168,262 L100,305"/>
<path d="M105,260 Q120,272 118,295"/>
<path d="M125,248 Q140,260 138,283"/>
<path d="M145,236 Q160,248 158,268"/>
<path d="M255,165 Q270,177 268,198"/>
<path d="M272,152 Q287,164 285,185"/>
<ellipse cx="118" cy="638" rx="13" ry="20" transform="rotate(-30 118 638)"/>
<path d="M105,620 L175,578 L180,582 L282,510 L285,504 L335,468 Q363,473 353,498 L300,536 L295,533 L195,602 L193,610 L125,655"/>
<path d="M130,608 Q145,620 143,643"/>
<path d="M150,596 Q165,608 163,631"/>
<path d="M170,584 Q185,596 183,616"/>
<path d="M300,495 Q315,507 313,528"/>
<path d="M317,482 Q332,494 330,515"/>
</g>
<g transform="translate(640,1200) scale(0.25305)"><!-- r02.txt -->
<path d="M590,190 L670,135 L810,133"/>
<path class="d" d="M135,110 L280,145"/>
<path class="d" d="M80,145 L160,165"/>
<path d="M280,135 L525,205 L530,200 L645,240 Q665,255 650,280 L530,248 L525,240 L250,160"/>
<path d="M550,208 Q565,225 552,252"/>
<path d="M575,216 Q590,233 577,260"/>
<path d="M600,224 Q615,241 602,267"/>
<path d="M625,232 Q640,249 627,274"/>
<path d="M155,155 L680,320 L685,315 L800,350 Q825,365 810,395 L690,360 L680,350 L120,180"/>
<path d="M705,322 Q720,340 708,366"/>
<path d="M730,330 Q745,348 733,374"/>
<path d="M755,338 Q770,356 758,381"/>
<path d="M780,346 Q795,364 783,388"/>
<ellipse cx="898" cy="405" rx="35" ry="45" transform="rotate(10 898 405)"/>
<ellipse cx="898" cy="405" rx="15" ry="22" transform="rotate(10 898 405)"/>
<path d="M643,372 L645,711"/>
<path d="M858,465 L812,540 L812,711"/>
<path d="M988,520 L990,711"/>
<path d="M265,560 L290,525 L330,520 L355,550 L345,590 L310,610 L275,595 Z"/>
<ellipse cx="318" cy="565" rx="20" ry="28" transform="rotate(-15 318 565)"/>
<ellipse cx="318" cy="565" rx="9" ry="15" transform="rotate(-15 318 565)"/>
<path d="M290,525 L298,560 L275,595"/>
<path d="M185,620 L186,711"/>
<path d="M325,645 L345,690 L345,711"/>
<path d="M1000,425 Q985,400 1005,385 Q1030,385 1025,415 Q1015,445 995,455 Q975,470 985,488 Q1005,498 1015,478 Q1018,462 1003,458"/>
</g>
<g transform="translate(797,1240) scale(0.25305)"><!-- r03.txt -->
<path d="M450,295 L470,268 L510,265 L535,295 L525,335 L490,352 L458,338 Z"/>
<ellipse cx="500" cy="308" rx="18" ry="25" transform="rotate(-10 500 308)"/>
<ellipse cx="500" cy="308" rx="8" ry="13" transform="rotate(-10 500 308)"/>
<path d="M470,268 L478,300 L458,338"/>
<path d="M490,378 L520,445 L522,711"/>
</g>
<g transform="translate(460,1180) scale(0.22493)"><!-- s16.txt -->
<path d="M722,568 L915,628 Q935,640 928,660 Q920,672 905,668 L715,605"/>
<ellipse cx="720" cy="587" rx="12" ry="20" transform="rotate(-15 720 587)"/>
<path d="M745,575 Q758,592 743,612"/>
<path d="M767,582 Q780,599 765,619"/>
<path d="M789,589 Q802,606 787,626"/>
<path d="M811,595 Q824,612 809,632"/>
<path d="M833,602 Q846,619 831,639"/>
<path d="M855,609 Q868,626 853,646"/>
<path d="M877,616 Q890,633 875,653"/>
<path d="M899,623 Q912,640 897,660"/>
<path d="M1010,665 Q995,640 1020,622 Q1050,615 1050,645 Q1040,680 1010,700 Q985,720 990,740 Q1010,755 1025,735 Q1035,715 1015,705"/>
</g>
<g transform="translate(455,215) scale(0.16870)"><!-- u01.txt -->
<path d="M130,70 L80,100 L82,200 L60,210 L65,250 L100,255 L110,330 L120,500 L128,580 L120,610 L160,625 L185,680 L230,695 L260,711"/>
<path d="M80,100 L150,107 L192,78 L130,70"/>
<path d="M192,78 L198,98 L160,125 L152,107"/>
<path d="M160,125 L175,200 L195,320 L230,335 L250,345 L255,400 L245,430 L265,445 L500,480 L700,510 L900,545 L1067,570"/>
<path d="M200,100 L215,200 L230,300 L265,330 L285,345 L290,400 L320,405 L500,425 L545,430 L560,440 L640,460 L740,462 L880,480 L930,460 L975,465 L995,490 L960,490"/>
<path d="M995,495 L1040,490 L1067,495"/>
<path d="M200,95 L330,90 L370,110 L420,180 L460,300 L510,425"/>
<path d="M235,240 L340,180 L400,195 L420,215 L405,300 L420,360 L465,415"/>
<path d="M235,255 L330,200"/>
<ellipse cx="392" cy="230" rx="13" ry="25" transform="rotate(15 392 230)"/>
<ellipse cx="140" cy="185" rx="18" ry="25"/>
<ellipse cx="207" cy="388" rx="20" ry="27"/>
<ellipse cx="210" cy="503" rx="15" ry="20"/>
<ellipse cx="210" cy="575" rx="27" ry="33"/>
<ellipse cx="458" cy="513" rx="22" ry="25"/>
<ellipse cx="710" cy="528" rx="17" ry="18"/>
<ellipse cx="965" cy="585" rx="20" ry="23"/>
<ellipse cx="715" cy="640" rx="27" ry="35" transform="rotate(-10 715 640)"/>
<path d="M250,560 L265,520 L310,490 L400,495 L420,530 L445,550 L480,550 L505,525 L660,540 L680,555 L710,565 L740,555 L760,545 L900,575 L925,605 L960,620 L1000,610 L1010,590 L1067,600"/>
<path d="M250,560 L240,600 L260,650 L300,640 L420,580"/>
<path d="M250,695 Q290,657 335,673 Q380,700 383,712"/>
<path d="M275,685 Q330,670 350,712"/>
<path d="M262,697 L275,712"/>
<path d="M425,595 Q450,645 462,712"/>
<path d="M450,590 L440,660 L450,711"/>
<path d="M510,580 Q540,620 520,660"/>
<path d="M610,590 Q570,650 575,711"/>
<path d="M680,711 L670,620 Q680,585 715,580 Q760,590 765,640 L770,700"/>
<path d="M790,660 L880,610"/>
<path d="M790,673 Q870,668 900,711"/>
<path d="M960,682 Q1010,695 1008,750"/>
</g>
<g transform="translate(635,215) scale(0.16870)"><!-- u02.txt -->
<path d="M745,0 L745,150 L280,435"/>
<path d="M250,395 L255,360 L280,335 L470,235 L540,245"/>
<path d="M290,390 L285,355 L300,345 L455,265 L505,262"/>
<path d="M140,500 L240,440 Q275,455 260,490 L170,545"/>
<ellipse cx="155" cy="522" rx="17" ry="27" transform="rotate(-30 155 522)"/>
<path d="M180,478 Q205,495 200,528"/>
<path d="M212,458 Q238,478 232,508"/>
<path d="M0,495 Q40,520 95,525"/>
<path d="M0,560 L100,575 L190,590 Q225,580 235,540"/>
<path d="M0,600 L150,610 L200,625 Q255,600 265,525"/>
<path d="M150,615 L160,650 L140,700"/>
<path d="M185,640 L215,700"/>
<path d="M150,700 Q175,680 200,700"/>
<path d="M40,650 Q10,680 5,711"/>
<path d="M75,650 Q50,680 45,711"/>
<path d="M275,711 L380,625 L430,605 L490,605"/>
<path d="M545,385 L640,290 L690,275 L720,290"/>
<path d="M640,290 L605,275"/>
<path d="M630,258 L680,265"/>
<path d="M545,385 L600,400 L690,305 L690,275"/>
<path d="M690,305 L715,330 L715,390 L735,450 L740,640"/>
<path d="M600,400 L605,470 L700,395"/>
<path d="M610,480 L715,400"/>
<path d="M605,470 L610,520 L640,510 L720,450"/>
<path d="M625,545 L715,470"/>
<path d="M625,545 L580,570 L575,640 L590,690 L615,711"/>
<path d="M545,385 L540,500 L548,560 L540,620 L545,660 L520,680 L515,711"/>
<ellipse cx="567" cy="490" rx="12" ry="15"/>
<path class="t" d="M715,500 L720,640 L690,690"/>
<ellipse cx="548" cy="700" rx="20" ry="28"/>
<path d="M650,700 L700,675"/>
<path d="M875,640 L1067,510"/>
</g>
<g transform="translate(455,335) scale(0.16870)"><!-- u03.txt -->
<path d="M275,0 Q268,150 205,280"/>
<path d="M350,0 Q345,150 285,290"/>
<path d="M383,0 Q378,160 300,300"/>
<path d="M150,320 L205,280 L270,285 L290,320 L295,390 L265,430 L255,470 L320,500 L330,520"/>
<path d="M150,320 L160,345 L155,470 L170,490 L230,495 L245,520 L210,530 L190,620 L165,650 L160,700"/>
<ellipse cx="237" cy="365" rx="25" ry="30"/>
<ellipse cx="190" cy="422" rx="14" ry="20"/>
<path d="M295,310 L440,235"/>
<path d="M270,430 L400,360 L460,300 L500,245 L670,275"/>
<path d="M465,0 L465,130 L435,215 L500,195 L520,180"/>
<path d="M480,150 L520,160 L535,210"/>
<path d="M540,20 Q570,50 540,75"/>
<path d="M545,95 Q575,115 545,140"/>
<path d="M575,0 Q600,150 700,240"/>
<path d="M680,110 L715,150"/>
<path d="M670,30 L690,50 L740,45 L760,70"/>
<path d="M720,85 L750,95 Q790,75 800,80 L830,110 Q850,200 820,330"/>
<path d="M735,100 Q760,230 690,340"/>
<path d="M770,110 Q800,230 735,350"/>
<path d="M790,105 Q815,230 770,345"/>
<path d="M690,340 L700,380 L690,480 L720,530 L715,570 L690,590"/>
<path d="M820,330 L790,360 L785,420 L795,500 L760,530 L790,590 L800,610"/>
<ellipse cx="738" cy="470" rx="25" ry="30"/>
<path d="M695,590 L720,580 L740,595 L760,590 L780,605 L800,610"/>
<path d="M800,480 L890,440 L885,500"/>
<path d="M800,560 L890,520"/>
<path d="M740,610 L720,680 L700,711"/>
<path d="M800,615 Q840,640 830,711"/>
<path d="M900,0 Q920,100 890,300"/>
<path d="M1000,40 L1020,120 L1000,190 L940,205 L900,260 L880,340 L900,345 L960,320 L1067,315"/>
<path d="M940,360 Q920,420 880,450"/>
<path d="M1060,20 Q1055,100 1067,150"/>
<path d="M395,480 L385,625 L470,620 Q520,590 515,545 Q500,490 430,480 Z"/>
<path d="M415,510 Q400,560 430,600 Q480,610 495,560 Q490,515 440,505 Z"/>
<path d="M490,445 Q545,480 555,545"/>
<path d="M230,530 L215,610 L330,625 L350,590 L350,530 L320,510"/>
<path d="M245,545 L235,600"/>
<path d="M180,650 Q210,640 230,660 Q260,670 250,711"/>
<path d="M170,680 Q200,690 210,711"/>
<path d="M0,395 L90,410"/>
<path d="M0,425 L95,440"/>
<path d="M935,680 Q930,610 985,600 Q1040,610 1067,650"/>
<path d="M960,690 Q965,640 1000,630 Q1040,640 1060,670"/>
</g>
<g transform="translate(635,335) scale(0.16870)"><!-- u04.txt -->
<ellipse cx="228" cy="305" rx="22" ry="28" transform="rotate(-30 228 305)"/>
<path d="M212,283 L262,255 Q300,262 290,298 L245,328"/>
<path d="M50,0 Q30,130 110,240"/>
<path d="M0,160 Q20,250 70,295"/>
<path d="M0,320 L20,325"/>
<path d="M195,170 L210,210"/>
<ellipse cx="180" cy="20" rx="28" ry="30"/>
<path d="M130,0 L150,60 L135,110 L215,140 L235,100 L230,40 L380,65"/>
<path d="M235,25 L370,50"/>
<path d="M215,140 L290,150 L320,240 L340,255 L495,290"/>
<path d="M340,230 L390,180 L400,100 L430,65 L500,70"/>
<ellipse cx="548" cy="165" rx="22" ry="27"/>
<path d="M525,30 L540,80 L530,130 L495,170 L480,225 L530,235 L570,215 L610,200 L590,150 L575,100 L580,50 L600,30"/>
<path d="M600,60 L700,20 L760,15"/>
<path d="M590,40 L690,0"/>
<path d="M640,60 L660,120 L655,180"/>
<path d="M530,260 Q545,350 525,420"/>
<path d="M575,240 Q600,350 570,440"/>
<path d="M600,230 Q640,350 610,460"/>
<path d="M620,210 Q690,220 690,300 Q700,400 655,490"/>
<path d="M625,195 Q700,200 705,300 Q715,400 670,500"/>
<ellipse cx="562" cy="358" rx="8" ry="12"/>
<ellipse cx="598" cy="385" rx="5" ry="10" class="f"/>
<path d="M185,395 L160,460 L165,520 L140,560 L135,600 L165,640 L215,640 L240,610 L245,520 L265,455 L300,405"/>
<path d="M165,470 L260,465"/>
<path d="M160,500 L245,505"/>
<ellipse cx="185" cy="575" rx="30" ry="35"/>
<path d="M240,630 L245,711"/>
<path d="M265,680 L440,470"/>
<path d="M260,610 L445,430"/>
<path d="M300,711 L390,600 L430,610 L490,590 L495,470 L520,490 L580,495"/>
<path d="M500,460 L540,490 L560,510 L600,515 L625,545 L670,550 L680,600 L685,711"/>
<ellipse cx="558" cy="560" rx="20" ry="25"/>
<path d="M600,515 L610,560 L590,600 L520,610 L495,640 L470,650 L465,711"/>
<ellipse cx="425" cy="680" rx="22" ry="28"/>
<path d="M385,640 L380,711"/>
<ellipse cx="540" cy="690" rx="12" ry="25"/>
<path d="M560,620 L690,690 Q715,690 710,711"/>
<path d="M570,640 L680,700"/>
<path d="M0,640 L60,600"/>
<path d="M0,660 L100,650 L170,660 L150,690 L130,711"/>
<path d="M30,640 Q80,660 100,711"/>
<path d="M110,585 L130,590"/>
</g>
<g transform="translate(455,455) scale(0.16870)"><!-- u05.txt -->
<path class="d" d="M60,100 L200,15"/>
<ellipse cx="25" cy="140" rx="20" ry="28" transform="rotate(-30 25 140)"/>
<path d="M0,180 L30,165"/>
<path d="M195,0 L205,120 L235,200 L250,320 L275,325 L285,300"/>
<path d="M265,0 L270,80 L300,140 L420,180 L515,215"/>
<ellipse cx="255" cy="170" rx="15" ry="20"/>
<path d="M300,232 L195,711"/>
<ellipse cx="300" cy="232" rx="5" ry="5" class="f"/>
<path d="M310,340 L410,365 L420,265 L515,290"/>
<ellipse cx="335" cy="310" rx="15" ry="25" transform="rotate(-15 335 310)"/>
<path d="M555,200 Q560,130 640,95 L700,80"/>
<path d="M555,200 L555,305 Q650,380 790,365 Q940,340 960,290 L960,205"/>
<path d="M555,215 Q640,290 790,275 Q920,255 950,205"/>
<path d="M655,170 Q660,130 720,125"/>
<path d="M655,170 Q680,230 750,240 Q800,235 820,215"/>
<path d="M720,150 Q710,200 740,215"/>
<ellipse cx="750" cy="85" rx="30" ry="35"/>
<ellipse cx="748" cy="90" rx="14" ry="17"/>
<ellipse cx="760" cy="160" rx="35" ry="30"/>
<path d="M790,60 L830,90 L910,95"/>
<path d="M800,170 L850,160 L910,150"/>
<path d="M910,80 L905,160 Q920,175 940,165 L945,90 Q925,75 910,80"/>
<path d="M945,100 L1067,95"/>
<path d="M960,165 L1067,175"/>
<path d="M945,85 L980,85"/>
<path d="M790,110 L800,150"/>
<path d="M735,130 Q770,110 780,140"/>
<path d="M710,0 L800,15 L810,0"/>
<path class="d" d="M1067,300 L800,490"/>
<path class="d" d="M960,345 L1067,375"/>
<path class="d" d="M860,395 L940,420"/>
<path d="M940,420 L1067,455"/>
<path d="M480,711 L670,570"/>
<path d="M545,711 L745,570"/>
<path d="M920,711 L1000,660"/>
<path d="M990,711 L1040,680"/>
<path d="M1060,640 L1067,630"/>
</g>
<g transform="translate(635,455) scale(0.16870)"><!-- u06.txt -->
<path d="M0,120 L130,115"/>
<path d="M0,160 L115,160"/>
<ellipse cx="185" cy="170" rx="22" ry="28"/>
<path d="M185,0 L180,90 L150,120"/>
<path d="M265,0 L270,90 L245,130 L255,200 L265,430"/>
<path d="M300,0 Q310,80 270,130"/>
<path class="d" d="M0,295 L160,190"/>
<path class="d" d="M0,625 L195,490"/>
<path class="d" d="M150,711 L200,640"/>
<path d="M0,375 L265,430 L330,465"/>
<path d="M0,445 L120,480"/>
<ellipse cx="220" cy="475" rx="18" ry="22"/>
<ellipse cx="205" cy="588" rx="20" ry="27" transform="rotate(-35 205 588)"/>
<path d="M185,570 L420,395"/>
<path d="M225,610 L455,435"/>
<ellipse cx="438" cy="410" rx="18" ry="25" transform="rotate(-35 438 410)"/>
<path d="M225,545 Q250,560 250,595"/>
<path d="M255,525 Q280,540 280,572"/>
<path d="M285,503 Q310,518 310,550"/>
<path d="M370,0 L440,20 L520,25 Q560,100 545,200 Q530,280 500,340"/>
<path d="M440,20 Q430,80 445,150 Q455,230 400,330 L395,400 L430,380"/>
<path d="M400,330 L500,345 L490,380 L470,420 L485,560 L440,580 L435,660 L345,640"/>
<path d="M500,345 L520,340 L515,400 L495,560 L490,630 L435,660"/>
<path d="M410,100 Q360,150 375,240"/>
<ellipse cx="497" cy="155" rx="22" ry="30"/>
<path d="M545,200 L580,60 L660,65 L720,20 L740,50 L830,70 L820,170 L790,250 L740,290 L720,340 L690,360"/>
<path d="M660,65 L650,140 L590,180 Q570,230 600,280"/>
<path d="M700,80 L690,150 L720,120 L740,180 L760,140"/>
<ellipse cx="775" cy="175" rx="22" ry="55" transform="rotate(20 775 175)"/>
<ellipse cx="630" cy="230" rx="20" ry="50" transform="rotate(10 630 230)"/>
<ellipse cx="630" cy="232" rx="9" ry="32" transform="rotate(10 630 232)" class="f"/>
<path d="M640,290 L685,375"/>
<ellipse cx="660" cy="405" rx="25" ry="28"/>
<ellipse cx="655" cy="408" rx="10" ry="12"/>
<path d="M520,390 L640,395"/>
<path d="M510,440 L625,410"/>
<path d="M495,480 L620,425"/>
<path d="M605,460 L640,465 L680,430"/>
<ellipse cx="690" cy="20" rx="18" ry="22"/>
<path d="M480,0 Q540,20 550,80 L560,200"/>
<path d="M1000,0 L1067,30"/>
</g>
<g transform="translate(540,380) scale(0.16870)"><!-- u08.txt -->
<path d="M470,545 L700,565"/>
<path d="M475,600 L690,612"/>
<path d="M740,440 L830,450 Q870,470 865,540 Q860,590 830,600"/>
<path d="M850,445 Q888,500 862,592"/>
<path d="M745,445 Q735,500 750,560 L720,570"/>
<path d="M230,350 Q225,400 205,440 L300,455 L325,440 L320,370"/>
</g>
<g transform="translate(0,0) scale(1.00000)"><!-- z01.txt -->
<path d="M760,75 L760.5,216"/>
<path d="M445.9,759.6 L368,960"/>
<path d="M727,1378 L727,1484"/>
<path d="M803,1378 L803,1484"/>
<path d="M846,1378 L846,1484"/>
<path d="M890,1378 L890,1484"/>
<path d="M929,1418 L929,1484"/>
<path d="M648.7,1438 L648.7,1484"/>
<path d="M687,1378 L687,1390"/>
<path d="M69,698.3 L138,698.3"/>
<path d="M410.6,921.5 L411.4,960"/>
<path d="M447.2,932.5 L447.7,960"/>
<path d="M523,953 L523.1,960"/>
<path d="M685.6,389.3 L820.9,462.9 L884,463.3"/>
<path d="M798.4,411.4 L826.5,424.1 L884,424.1"/>
</g>
</g>
<g class="lbl">
<text transform="translate(484.7,65.9) scale(0.807,1)" x="-12.84" y="0">13</text>
<text transform="translate(540.9,63.2) scale(0.900,1)" x="-6.30" y="0">6</text>
<text transform="translate(596.6,62.7) scale(0.900,1)" x="-6.24" y="0">5</text>
<text transform="translate(640.9,63.2) scale(0.900,1)" x="-6.19" y="0">4</text>
<text transform="translate(684.0,64.5) scale(1.000,1)" x="-13.09" y="0" letter-spacing="0.16">14</text>
<text transform="translate(719.0,64.5) scale(1.000,1)" x="-13.49" y="0" letter-spacing="1.19">15</text>
<text transform="translate(760.4,64.5) scale(1.000,1)" x="-12.70" y="0" letter-spacing="0.62">32</text>
<text transform="translate(901.4,256.9) scale(0.900,1)" x="-12.33" y="0">45</text>
<text transform="translate(903.0,293.9) scale(0.900,1)" x="-12.73" y="0">24</text>
<text transform="translate(902.9,322.2) scale(0.900,1)" x="-12.50" y="0">27</text>
<text transform="translate(901.6,352.6) scale(0.900,1)" x="-12.61" y="0">28</text>
<text transform="translate(905.3,382.0) scale(0.900,1)" x="-12.39" y="0">31</text>
<text transform="translate(905.0,408.2) scale(0.900,1)" x="-12.50" y="0">30</text>
<text transform="translate(905.0,434.6) scale(0.900,1)" x="-12.56" y="0">29</text>
<text transform="translate(905.7,471.9) scale(0.900,1)" x="-12.50" y="0">38</text>
<text transform="translate(367.2,318.0) scale(0.900,1)" x="-12.28" y="0">43</text>
<text transform="translate(427.9,325.0) scale(0.900,1)" x="-12.44" y="0">56</text>
<text transform="translate(297.0,419.7) scale(0.900,1)" x="-12.44" y="0">44</text>
<text transform="translate(49.3,470.8) scale(0.900,1)" x="-12.61" y="0">60</text>
<text transform="translate(49.1,517.6) scale(0.900,1)" x="-12.44" y="0">59</text>
<text transform="translate(46.6,559.4) scale(0.900,1)" x="-12.22" y="0">42</text>
<text transform="translate(47.4,615.5) scale(0.900,1)" x="-12.50" y="0">58</text>
<text transform="translate(49.9,706.9) scale(0.900,1)" x="-12.39" y="0">57</text>
<text transform="translate(438.5,677.9) scale(0.900,1)" x="-6.30" y="0">8</text>
<text transform="translate(523.5,681.6) scale(0.740,1)" x="-12.50" y="0" letter-spacing="-0.57">11</text>
<text transform="translate(589.0,682.2) scale(0.900,1)" x="-6.24" y="0">9</text>
<text transform="translate(646.7,679.4) scale(0.811,1)" x="-12.78" y="0">12</text>
<text transform="translate(450.0,750.5) scale(0.900,1)" x="-6.53" y="0">1</text>
<text transform="translate(909.8,701.0) scale(0.900,1)" x="-12.50" y="0">50</text>
<text transform="translate(909.8,746.1) scale(0.900,1)" x="-12.28" y="0">49</text>
<text transform="translate(909.0,786.3) scale(0.805,1)" x="-12.39" y="0">51</text>
<text transform="translate(909.2,822.0) scale(0.900,1)" x="-12.39" y="0">52</text>
<text transform="translate(325.0,832.6) scale(0.900,1)" x="-12.50" y="0">55</text>
<text transform="translate(283.0,858.8) scale(0.900,1)" x="-12.61" y="0">54</text>
<text transform="translate(242.0,887.9) scale(0.900,1)" x="-12.61" y="0">54</text>
<text transform="translate(187.0,923.3) scale(0.900,1)" x="-12.44" y="0">53</text>
<text transform="translate(131.4,967.6) scale(0.900,1)" x="-12.50" y="0">35</text>
<text transform="translate(409.7,914.2) scale(0.900,1)" x="-12.44" y="0">36</text>
<text transform="translate(446.4,924.1) scale(0.900,1)" x="-12.39" y="0">37</text>
<text transform="translate(521.8,944.6) scale(0.900,1)" x="-12.61" y="0">34</text>
<text transform="translate(562.2,953.9) scale(0.900,1)" x="-12.44" y="0">33</text>
<text transform="translate(604.8,967.3) scale(0.900,1)" x="-12.61" y="0">25</text>
<text transform="translate(867.7,1101.4) scale(0.781,1)" x="-12.89" y="0">10</text>
<text transform="translate(867.0,1187.2) scale(0.900,1)" x="-6.24" y="0">2</text>
<text transform="translate(864.5,1243.9) scale(0.900,1)" x="-12.61" y="0">20</text>
<text transform="translate(196.3,1107.9) scale(0.900,1)" x="-12.44" y="0">39</text>
<text transform="translate(88.4,1184.9) scale(0.900,1)" x="-6.24" y="0">7</text>
<text transform="translate(153.5,1373.6) scale(0.900,1)" x="-12.33" y="0">40</text>
<text transform="translate(226.3,1514.4) scale(0.900,1)" x="-6.19" y="0">3</text>
<text transform="translate(321.9,1445.2) scale(0.900,1)" x="-12.28" y="0">46</text>
<text transform="translate(360.3,1385.6) scale(0.900,1)" x="-12.33" y="0">48</text>
<text transform="translate(361.5,1417.7) scale(0.900,1)" x="-12.22" y="0">47</text>
<text transform="translate(475.7,1429.5) scale(0.900,1)" x="-12.61" y="0">28</text>
<text transform="translate(511.3,1414.8) scale(0.900,1)" x="-12.50" y="0">27</text>
<text transform="translate(547.0,1399.1) scale(0.900,1)" x="-12.56" y="0">26</text>
<text transform="translate(570.2,1509.2) scale(0.825,1)" x="-12.89" y="0">15</text>
<text transform="translate(605.3,1509.2) scale(0.817,1)" x="-13.01" y="0">14</text>
<text transform="translate(648.3,1509.2) scale(0.807,1)" x="-12.84" y="0">16</text>
<text transform="translate(686.4,1509.2) scale(0.766,1)" x="-12.78" y="0">17</text>
<text transform="translate(726.7,1509.2) scale(0.825,1)" x="-12.89" y="0">18</text>
<text transform="translate(801.8,1509.2) scale(0.830,1)" x="-12.84" y="0">19</text>
<text transform="translate(845.5,1509.2) scale(0.791,1)" x="-12.50" y="0">21</text>
<text transform="translate(890.0,1509.2) scale(0.900,1)" x="-12.50" y="0">22</text>
<text transform="translate(929.2,1509.2) scale(0.900,1)" x="-12.56" y="0">23</text>
</g>
<circle cx="42.5" cy="697.2" r="35.6" fill="none" stroke="#c4201c" stroke-width="2"/>
<g style="mix-blend-mode:multiply">
<defs><clipPath id="lc"><circle cx="966.2" cy="1500.1" r="98.9"/></clipPath>
<path id="arc" d="M909.7,1444 A163.6,163.6 0 0 1 1023.7,1444"/></defs>
<g clip-path="url(#lc)">
<rect x="860" y="1395" width="210" height="210" fill="#cf8e90"/>
<polygon points="1030,1468 1054,1462 1067,1479 1067,1506 1043,1513 1032,1489" fill="#e8b6b6"/>
<polygon points="1028,1521 1062,1513 1054,1551 1017,1570" fill="#dfa6a7"/>
<polygon points="1030,1437 1052,1450 1056,1462 1030,1466" fill="#c07f80"/>
<polygon points="867,1480 905,1460 905,1430 935,1400 1000,1400 1040,1425 1067,1470 1030,1460 1028,1425 966,1412 903,1428 900,1470" fill="#d9a0a0"/>
<polygon points="870,1530 910,1540 950,1590 900,1590" fill="#c98686"/>
<polygon points="980,1585 1030,1545 1060,1540 1040,1580 1000,1600" fill="#dca4a4"/>
<polygon points="872,1500 905,1490 908,1530 880,1535" fill="#c88788"/>
</g>
<path d="M905.5,1431 Q966.7,1403.5 1027.9,1431 L1027,1500 Q1026,1540 1005,1556 L967,1584 L929,1556 Q908,1540 907,1500 Z" fill="#747578"/>
<path d="M909.3,1452 Q966.7,1428 1024.3,1452 L1023.5,1500 Q1022.5,1537 1002.5,1553 L967,1579 L931.5,1553 Q911.5,1537 910.5,1500 Z" fill="#dfdbc3"/>
<path d="M950.5,1441.5 Q967.7,1438.5 985.5,1441.5 L985.5,1566 L968,1579 L950.5,1566.5 Z" fill="#cc4b51"/>
<path d="M949,1472 L960,1472 L968.5,1479 L977,1472 L987,1472 L987,1545.5 L949,1545.5 Z" fill="#dfdbc3"/>
<g font-family="'Liberation Sans',sans-serif" font-weight="bold">
<text transform="translate(969.2,1517.6) scale(0.82,1)" text-anchor="middle" font-size="78" fill="#dfdbc3" stroke="#dfdbc3" stroke-width="13" stroke-linejoin="miter" letter-spacing="3">DC</text>
<text transform="translate(969.2,1517.6) scale(0.82,1)" text-anchor="middle" font-size="78" fill="#747578" stroke="#747578" stroke-width="8" stroke-linejoin="miter" letter-spacing="3">DC</text>
<text font-size="14.7" fill="#fff" stroke="#fff" stroke-width=".3"><textPath href="#arc" startOffset="50%" text-anchor="middle" textLength="111" lengthAdjust="spacingAndGlyphs">DCAUTO.COM</textPath></text>
</g>
<text transform="translate(969.2,1538.6) scale(2.25,1)" text-anchor="middle" font-family="'Liberation Sans',sans-serif" font-size="13.8" fill="#747578" stroke="#747578" stroke-width=".5">AUTO</text>
</g>
</svg>
</body></html>
